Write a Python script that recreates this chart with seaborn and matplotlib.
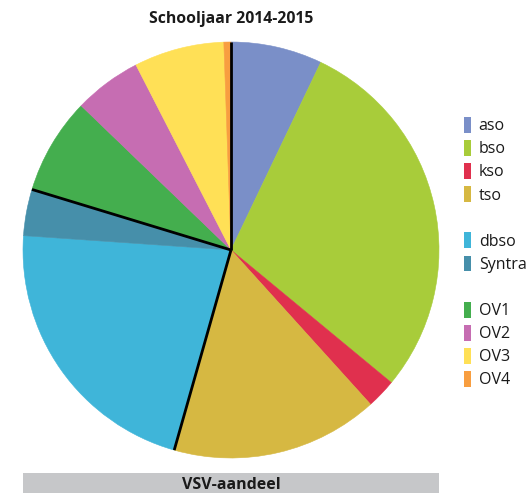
import numpy as np
import seaborn as sns
import matplotlib.pyplot as plt
from matplotlib.patches import Patch, Rectangle

# data (aandeel in %)
labels = ["aso", "bso", "kso", "tso", "dbso", "Syntra", "OV1", "OV2", "OV3", "OV4"]
values = [7.1, 28.9, 2.3, 16.1, 21.7, 3.6, 7.5, 5.25, 7.0, 0.55]
colors = ["#7A8FC8", "#A8CC3A", "#E0304E", "#D6B842", "#3FB5D9",
          "#468FAA", "#44AE4E", "#C66DB2", "#FFE056", "#F89E40"]
# groepen: secundair / duaal / buitengewoon
group_starts = [0, 4, 6]

sns.set_theme(style="white")
plt.rcParams["font.family"] = ["Open Sans", "DejaVu Sans"]

fig = plt.figure(figsize=(5.31, 4.93), dpi=100)
ax = fig.add_axes([(231 - 208) / 531, (493 - 458) / 493, 416 / 531, 416 / 493])

wedges, _ = ax.pie(values, colors=colors, startangle=90, counterclock=False,
                   radius=1, wedgeprops=dict(linewidth=0.4, edgecolor="none"))
for w, c in zip(wedges, colors):
    w.set_edgecolor(c)

# zwarte scheidingslijnen tussen de groepen
cum = np.concatenate([[0], np.cumsum(values)]) / sum(values)
for i in group_starts:
    ang = np.deg2rad(90 - 360 * cum[i])
    ax.plot([0, np.cos(ang)], [0, np.sin(ang)], color="black", lw=2, solid_capstyle="butt")

ax.set_xlim(-1, 1)
ax.set_ylim(-1, 1)
ax.set_aspect("equal")
ax.axis("off")

fig.text(231 / 531, 1 - 19 / 493, "Schooljaar 2014-2015", ha="center", va="center",
         fontsize=11.3, fontweight="bold", color="#1a1a1a")

# legenda met lege regels tussen de groepen
blank = Patch(facecolor="none", edgecolor="none", label=" ")
handles = []
for i, (lab, col) in enumerate(zip(labels, colors)):
    if i in group_starts[1:]:
        handles.append(blank)
    handles.append(Patch(facecolor=col, edgecolor="none", label=lab))
fig.legend(handles=handles, loc="upper left", bbox_to_anchor=(456 / 531, 1 - 109 / 493),
           frameon=False, fontsize=11.5, handlelength=0.47, handleheight=1.15,
           handletextpad=0.45, labelspacing=0.36, borderpad=0, labelcolor="#1a1a1a")

# grijze balk onderaan
fig.patches.append(Rectangle((23 / 531, 0), (439 - 23) / 531, 20 / 493,
                             transform=fig.transFigure, facecolor="#C6C7C9",
                             edgecolor="none"))
fig.text(231 / 531, 8 / 493, "VSV-aandeel", ha="center", va="center",
         fontsize=11.5, fontweight="bold", color="#1a1a1a")

fig.savefig("out.png", dpi=100)
